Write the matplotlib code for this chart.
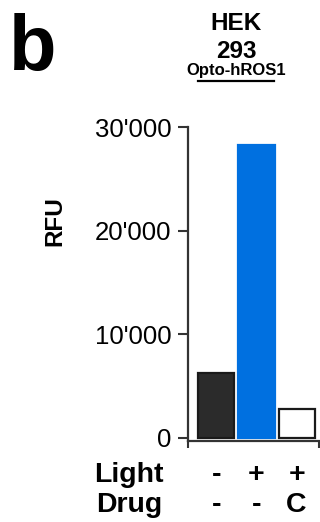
import matplotlib
matplotlib.use("Agg")
import matplotlib.pyplot as plt
import matplotlib.transforms as mtransforms

plt.rcParams['font.family'] = ['Liberation Sans', 'DejaVu Sans']

conditions = ["ctrl", "light", "light+C"]
values = [6300, 28300, 2750]
light_labels = ["-", "+", "+"]
drug_labels = ["-", "-", "C"]
yticks = [0, 10000, 20000, 30000]
ytick_labels = ["0", "10'000", "20'000", "30'000"]
face_colors = ["#2b2b2b", "#0070e0", "#ffffff"]
edge_colors = ["#1a1a1a", "#0070e0", "#1a1a1a"]

fig = plt.figure(figsize=(3.2, 5.22), dpi=100)
ax = fig.add_axes([0.5875, 0.1552, 0.4095, 0.6015])

x = list(range(len(values)))
ax.bar(x, values, width=0.9, color=face_colors, edgecolor=edge_colors, linewidth=1.6)

ax.set_xlim(-0.71, 2.56)
ax.set_ylim(-300, 30000)
ax.set_yticks(yticks)
ax.set_yticklabels(ytick_labels, fontsize=18.5)
ax.set_xticks([-0.71, 2.56])
ax.set_xticklabels(["", ""])
ax.tick_params(axis='y', length=7, width=1.5, color='#333333', pad=5)
ax.tick_params(axis='x', length=5, width=1.5, color='#333333')
for s in ['top', 'right']:
    ax.spines[s].set_visible(False)
for s in ['left', 'bottom']:
    ax.spines[s].set_linewidth(1.6)
    ax.spines[s].set_color('#333333')

fig.text(55/320, 1 - 221/522, "RFU", rotation=90, ha='center', va='center',
         fontsize=17.5, fontweight='bold')

trans = mtransforms.blended_transform_factory(ax.transData, fig.transFigure)
for i in x:
    ax.text(i, 1 - 482/522, light_labels[i], transform=trans, ha='center', va='baseline',
            fontsize=20.5, fontweight='bold')
    ax.text(i, 1 - 512/522, drug_labels[i], transform=trans, ha='center', va='baseline',
            fontsize=20.5, fontweight='bold')
fig.text(164/320, 1 - 482/522, "Light", ha='right', va='baseline', fontsize=20.5, fontweight='bold')
fig.text(162/320, 1 - 512/522, "Drug", ha='right', va='baseline', fontsize=20.5, fontweight='bold')

fig.text(236/320, 1 - 23/522, "HEK", ha='center', va='center', fontsize=17.5, fontweight='bold')
fig.text(236/320, 1 - 51/522, "293", ha='center', va='center', fontsize=17.5, fontweight='bold')
fig.text(236/320, 1 - 70/522, "Opto-hROS1", ha='center', va='center', fontsize=12, fontweight='bold')
fig.add_artist(plt.Line2D([198/320, 274/320], [1 - 81/522, 1 - 81/522], color='black', linewidth=1.6,
                          transform=fig.transFigure))

fig.text(9/320, 1 - 70/522, "b", ha='left', va='baseline', fontsize=56, fontweight='bold')

fig.savefig("out.png", dpi=100)
